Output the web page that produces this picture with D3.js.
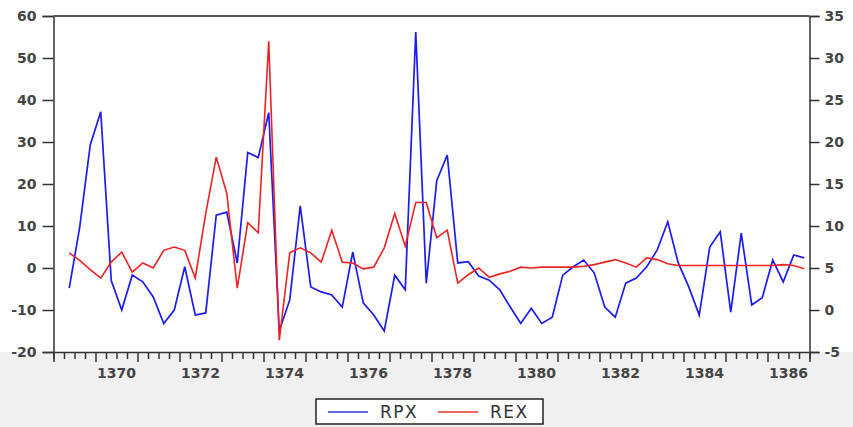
<!DOCTYPE html>
<html>
<head>
<meta charset="utf-8">
<script src="https://cdn.jsdelivr.net/npm/d3@7"></script>
<style>
  body { margin: 0; background: #ffffff; }
  text { font-family: "DejaVu Sans", sans-serif; }
</style>
</head>
<body>
<svg id="chart" width="853" height="427"></svg>
<script>
  // --------------------------------------------------
  // 1. Data (quarterly, first observation 1369 Q2)
  // --------------------------------------------------
  const startYear = 1369;
  const startQuarter = 2;

  const rpx = [
    -4.8, 9.8, 29.3, 37.2, -3, -10, -1.7, -3.3, -6.9, -13.2,
    -10, 0.3, -11.2, -10.7, 12.6, 13.3, 1.2, 27.5, 26.3, 37,
    -15, -7.6, 14.8, -4.5, -5.7, -6.4, -9.3, 3.8, -8.3, -11.2,
    -15, -1.7, -5.2, 56.2, -3.6, 20.8, 26.9, 1.2, 1.5, -1.9,
    -2.9, -5.2, -9.3, -13.2, -9.6, -13.2, -11.7, -1.7, 0.3, 1.9,
    -1.2, -9.3, -11.7, -3.6, -2.4, 0.3, 4.3, 11, 1.2, -4.5,
    -11.2, 5, 8.6, -10.5, 8.3, -8.8, -7.1, 1.9, -3.3, 3.1,
    2.4
  ];

  const rex = [
    6.8, 5.9, 4.8, 3.8, 5.7, 6.9, 4.5, 5.6, 5.0, 7.1,
    7.5, 7.1, 3.8, 11.5, 18.2, 13.9, 2.6, 10.4, 9.2, 32.0,
    -3.6, 6.8, 7.4, 6.8, 5.7, 9.5, 5.7, 5.6, 4.9, 5.1,
    7.4, 11.5, 7.6, 12.8, 12.8, 8.6, 9.5, 3.2, 4.2, 5.0,
    3.9, 4.3, 4.6, 5.1, 5.0, 5.1, 5.1, 5.1, 5.1, 5.2,
    5.4, 5.7, 6.0, 5.6, 5.1, 6.2, 6.0, 5.5, 5.3, 5.3,
    5.3, 5.3, 5.3, 5.3, 5.3, 5.3, 5.3, 5.3, 5.4, 5.3,
    4.9
  ];

  const xLabels = [1370, 1372, 1374, 1376, 1378, 1380, 1382, 1384, 1386];
  const leftTicks = [-20, -10, 0, 10, 20, 30, 40, 50, 60];
  const rightTicks = [-5, 0, 5, 10, 15, 20, 25, 30, 35];

  // --------------------------------------------------
  // 2. Scales
  // --------------------------------------------------
  const svg = d3.select("#chart");
  const plotLeft = 53.5, plotRight = 809.5, plotTop = 16, plotBottom = 352;

  const x = d3.scaleLinear().domain([1369, 1387]).range([plotLeft, plotRight]);
  const yL = d3.scaleLinear().domain([-20, 60]).range([plotBottom, plotTop]);
  const yR = d3.scaleLinear().domain([-5, 35]).range([plotBottom, plotTop]);

  // observation i sits in the middle of its quarter
  const tOf = (i) => startYear + (startQuarter - 1 + i) / 4 + 0.125;

  // grey band under the plot, white plot area
  svg.append("rect").attr("x", 0).attr("y", plotBottom).attr("width", 853).attr("height", 427 - plotBottom)
    .style("fill", "#f0f0f0");
  svg.append("rect").attr("x", plotLeft).attr("y", plotTop)
    .attr("width", plotRight - plotLeft).attr("height", plotBottom - plotTop)
    .style("fill", "#ffffff");

  // --------------------------------------------------
  // 3. Axes
  // --------------------------------------------------
  const tickFont = (sel) => sel.selectAll("text")
    .style("font-size", "14px").style("font-weight", "bold").style("fill", "#444");
  const plain = (d) => String(d); // keep ascii hyphen for negatives

  const leftAxis = svg.append("g").attr("transform", `translate(${plotLeft},0)`)
    .call(d3.axisLeft(yL).tickValues(leftTicks).tickSize(11).tickPadding(6).tickFormat(plain));
  tickFont(leftAxis);

  const rightAxis = svg.append("g").attr("transform", `translate(${plotRight},0)`)
    .call(d3.axisRight(yR).tickValues(rightTicks).tickSize(10).tickPadding(5).tickFormat(plain));
  tickFont(rightAxis);

  // quarterly ticks, longer at each year
  const quarterTicks = d3.range(0, 73).map((k) => 1369 + k / 4);
  const bottomAxis = svg.append("g").attr("transform", `translate(0,${plotBottom})`)
    .call(d3.axisBottom(x).tickValues(quarterTicks).tickSize(7).tickFormat(""));
  bottomAxis.selectAll(".tick line")
    .attr("y2", (d) => (Math.abs(d - Math.round(d)) < 1e-9 ? 10 : 7));

  // year labels centered over their year
  svg.append("g").selectAll("text.xlabel")
    .data(xLabels)
    .enter()
    .append("text")
    .attr("class", "xlabel")
    .attr("x", (d) => x(d + 0.5))
    .attr("y", 378)
    .attr("text-anchor", "middle")
    .style("font-size", "14px").style("font-weight", "bold").style("fill", "#444")
    .text((d) => d);

  svg.selectAll(".domain, .tick line").style("stroke", "#333").style("stroke-width", 1.5);

  // top frame line
  svg.append("line").attr("x1", plotLeft).attr("x2", plotRight).attr("y1", plotTop).attr("y2", plotTop)
    .style("stroke", "#555").style("stroke-width", 2);

  // --------------------------------------------------
  // 4. Lines
  // --------------------------------------------------
  const lineL = d3.line().x((d, i) => x(tOf(i))).y((d) => yL(d));
  const lineR = d3.line().x((d, i) => x(tOf(i))).y((d) => yR(d));

  svg.append("path").datum(rpx).attr("d", lineL)
    .style("fill", "none").style("stroke", "#1c1cf0").style("stroke-width", 1.7);
  svg.append("path").datum(rex).attr("d", lineR)
    .style("fill", "none").style("stroke", "#ee2222").style("stroke-width", 1.6);

  // --------------------------------------------------
  // 5. Legend
  // --------------------------------------------------
  const legend = svg.append("g");
  legend.append("rect").attr("x", 316).attr("y", 399).attr("width", 227).attr("height", 25)
    .style("fill", "#fff").style("stroke", "#222").style("stroke-width", 1.5);
  const items = [{ name: "RPX", color: "#3333dd" }, { name: "REX", color: "#e43333" }];
  items.forEach((it, i) => {
    const x0 = 328 + i * 110;
    legend.append("line").attr("x1", x0).attr("x2", x0 + 40).attr("y1", 412).attr("y2", 412)
      .style("stroke", it.color).style("stroke-width", 1.5);
    legend.append("text").attr("x", x0 + 52).attr("y", 418)
      .style("font-size", "17px").style("letter-spacing", "1.5px").style("fill", "#333")
      .text(it.name);
  });
</script>
</body>
</html>
